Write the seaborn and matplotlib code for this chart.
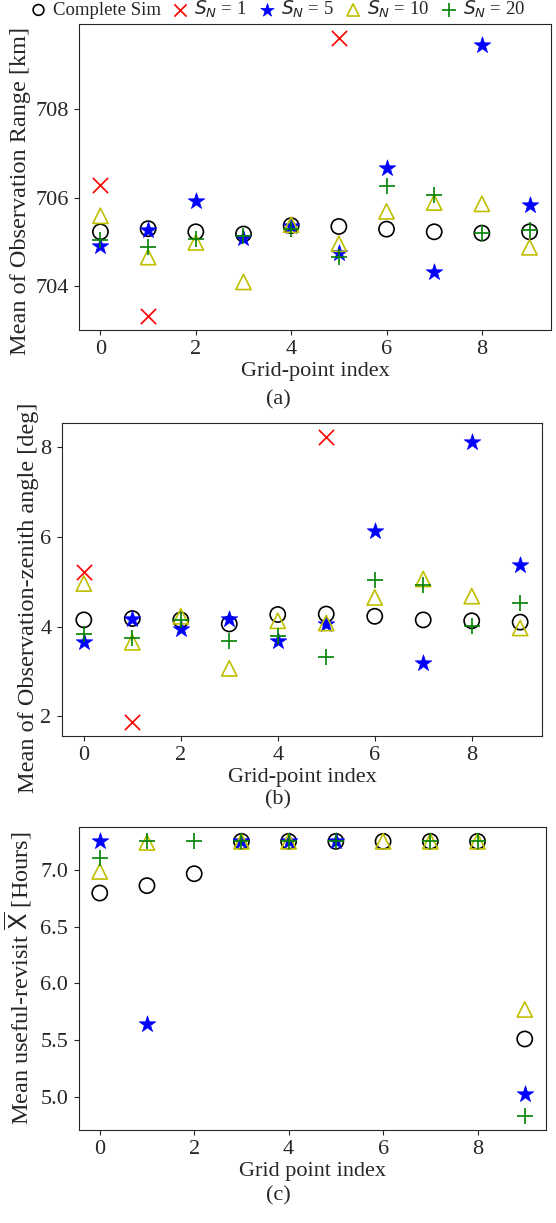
import numpy as np
import matplotlib
matplotlib.use('Agg')
from matplotlib import pyplot as plt
import seaborn as sns

nan = np.nan
grid_idx = list(range(10))

# (a) mean observation range [km]
range_complete = [705.23, 705.30, 705.23, 705.18, 705.37, 705.35, 705.29, 705.23, 705.20, 705.23]
range_s1 = [706.28, 703.33, nan, nan, nan, 709.60, nan, nan, nan, nan]
range_s5 = [704.92, 705.26, 705.93, 705.09, 705.35, 704.75, 706.67, 704.32, 709.44, 705.84]
range_s10 = [705.59, 704.66, 704.99, 704.10, 705.39, 704.96, 705.69, 705.89, 705.86, 704.88]
range_s20 = [705.04, 704.88, 705.07, 705.14, 705.29, 704.67, 706.26, 706.05, 705.20, 705.28]

# (b) mean observation-zenith angle [deg]
zen_complete = [4.15, 4.18, 4.15, 4.06, 4.27, 4.28, 4.23, 4.15, 4.13, 4.10]
zen_s1 = [5.21, 1.88, nan, nan, nan, 8.22, nan, nan, nan, nan]
zen_s5 = [3.65, 4.18, 3.95, 4.17, 3.69, 4.06, 6.14, 3.19, 8.12, 5.37]
zen_s10 = [4.96, 3.65, 4.23, 3.07, 4.13, 4.08, 4.65, 5.06, 4.68, 3.97]
zen_s20 = [3.83, 3.75, 4.14, 3.67, 3.78, 3.32, 5.05, 4.92, 4.02, 4.53]

# (c) mean useful revisit [hours]
rev_complete = [6.795, 6.86, 6.965, 7.25, 7.25, 7.25, 7.25, 7.25, 7.25, 5.51]
rev_s5 = [7.255, 5.64, nan, 7.25, 7.25, 7.25, nan, nan, nan, 5.03]
rev_s10 = [6.985, 7.24, nan, 7.25, 7.25, nan, 7.25, 7.25, 7.25, 5.77]
rev_s20 = [7.10, 7.25, 7.25, 7.25, 7.25, 7.25, nan, 7.25, 7.25, 4.83]

labels = ['Complete Sim', '$S_N$ = 1', '$S_N$ = 5', '$S_N$ = 10', '$S_N$ = 20']

sns.set_style('ticks')
plt.rcParams['font.family'] = ['Liberation Serif', 'DejaVu Sans']
plt.rcParams['mathtext.fontset'] = 'dejavusans'

W, H = 556, 1223
fig = plt.figure(figsize=(W / 100, H / 100), dpi=100)


def add_ax(left, top, right, bottom):
    return fig.add_axes([left / W, 1 - bottom / H, (right - left) / W, (bottom - top) / H])


def draw_series(ax, complete, s1, s5, s10, s20):
    sz = 120
    sns.scatterplot(x=grid_idx, y=complete, ax=ax, marker='o', s=sz, facecolor='none',
                    edgecolor='k', linewidth=1.2, label=labels[0], legend=False)
    if s1 is not None:
        sns.scatterplot(x=grid_idx, y=s1, ax=ax, marker='x', s=sz, color='r',
                        linewidth=1.2, label=labels[1], legend=False)
    sns.scatterplot(x=grid_idx, y=s5, ax=ax, marker='*', s=sz * 1.3, color='b',
                    edgecolor='b', linewidth=0.5, label=labels[2], legend=False)
    sns.scatterplot(x=grid_idx, y=s10, ax=ax, marker='^', s=sz, facecolor='none',
                    edgecolor='y', linewidth=1.2, label=labels[3], legend=False)
    sns.scatterplot(x=grid_idx, y=s20, ax=ax, marker='+', s=sz * 1.2, color='g',
                    linewidth=1.2, label=labels[4], legend=False)
    ax.set_xticks([0, 2, 4, 6, 8])
    ax.set_xlim(-0.45, 9.45)
    ax.tick_params(labelsize=16, pad=4)


def place_ylabel(ax, text, right_px, center_px):
    ax.set_ylabel(text, fontsize=17.5)
    ax.yaxis.set_label_coords(right_px / W, 1 - center_px / H, transform=fig.transFigure)


ax_a = add_ax(79, 24, 551, 330)
draw_series(ax_a, range_complete, range_s1, range_s5, range_s10, range_s20)
ax_a.set_yticks([704, 706, 708])
ax_a.set_xlabel('Grid-point index', fontsize=16, labelpad=2)
place_ylabel(ax_a, 'Mean of Observation Range [km]', 31, 191)

ax_b = add_ax(62, 423, 542, 736)
draw_series(ax_b, zen_complete, zen_s1, zen_s5, zen_s10, zen_s20)
ax_b.set_yticks([2, 4, 6, 8])
ax_b.set_xlabel('Grid-point index', fontsize=16, labelpad=2)
place_ylabel(ax_b, 'Mean of Observation-zenith angle [deg]', 39, 598)

ax_c = add_ax(78.5, 827, 546, 1130)
draw_series(ax_c, rev_complete, None, rev_s5, rev_s10, rev_s20)
ax_c.set_yticks([5.0, 5.5, 6.0, 6.5, 7.0])
ax_c.set_yticklabels(['5.0', '5.5', '6.0', '6.5', '7.0'])
ax_c.set_xlabel('Grid point index', fontsize=16, labelpad=2)
place_ylabel(ax_c, r'Mean useful-revisit $\overline{\mathrm{X}}$ [Hours]', 34, 978)

fig.text(278 / W, 1 - 400 / H, '(a)', ha='center', va='center', fontsize=16)
fig.text(278 / W, 1 - 800 / H, '(b)', ha='center', va='center', fontsize=16)
fig.text(278 / W, 1 - 1196 / H, '(c)', ha='center', va='center', fontsize=16)

handles, labs = ax_a.get_legend_handles_labels()
leg = fig.legend(handles, labs, loc='upper center', bbox_to_anchor=(0.497, 1.004), ncol=5,
                 frameon=False, fontsize=13.5, handletextpad=0.15, columnspacing=0.45,
                 handlelength=1.2, borderaxespad=0, borderpad=0.2, markerscale=0.8)
# the circle in the reference legend is drawn smaller than the others
leg.legend_handles[0].set_sizes([60])

fig.savefig('out.png', dpi=100)
